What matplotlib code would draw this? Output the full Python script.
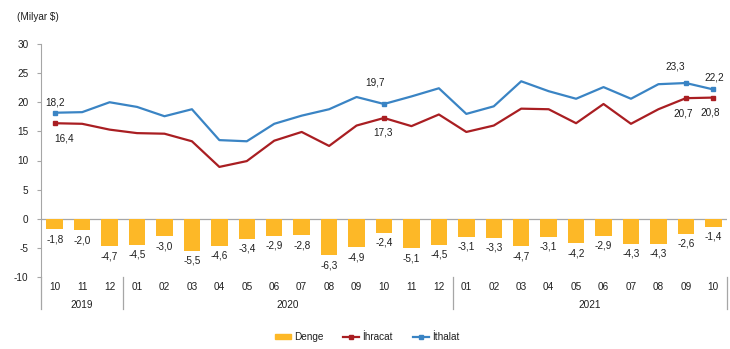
import matplotlib
matplotlib.use("Agg")
import matplotlib.pyplot as plt
from matplotlib.lines import Line2D
from matplotlib.patches import Patch
import numpy as np

plt.rcParams['font.family'] = ['Liberation Sans', 'DejaVu Sans']

months = ["10", "11", "12", "01", "02", "03", "04", "05", "06", "07", "08", "09", "10", "11", "12",
          "01", "02", "03", "04", "05", "06", "07", "08", "09", "10"]
years = ["2019", "2020", "2021"]
year_counts = [3, 12, 10]

ithalat = [18.2, 18.3, 20.0, 19.2, 17.6, 18.8, 13.5, 13.3, 16.3, 17.7, 18.8, 20.9, 19.7, 21.0, 22.4,
           18.0, 19.3, 23.6, 21.9, 20.6, 22.6, 20.6, 23.1, 23.3, 22.2]
ihracat = [16.4, 16.3, 15.3, 14.7, 14.6, 13.3, 8.9, 9.9, 13.4, 14.9, 12.5, 16.0, 17.3, 15.9, 17.9,
           14.9, 16.0, 18.9, 18.8, 16.4, 19.7, 16.3, 18.8, 20.7, 20.8]
denge = [-1.8, -2.0, -4.7, -4.5, -3.0, -5.5, -4.6, -3.4, -2.9, -2.8, -6.3, -4.9, -2.4, -5.1, -4.5,
         -3.1, -3.3, -4.7, -3.1, -4.2, -2.9, -4.3, -4.3, -2.6, -1.4]
labeled_idx = [0, 12, 23, 24]

c_bar = "#FDB827"
c_exp = "#A91E22"
c_imp = "#3A84C4"
c_txt = "#1F1F1F"
c_axis = "#A6A6A6"

fig = plt.figure(figsize=(7.30, 3.49), dpi=100)
ax = fig.add_axes([41/730, 72/349, 686/730, 233/349])

x = np.arange(len(months))
ax.bar(x, denge, width=0.6, color=c_bar, zorder=2)
ax.plot(x, ihracat, color=c_exp, lw=1.6, zorder=3)
ax.plot(x, ithalat, color=c_imp, lw=1.6, zorder=3)
ax.plot(x[labeled_idx], np.array(ihracat)[labeled_idx], 's', color=c_exp, ms=3.5, zorder=4)
ax.plot(x[labeled_idx], np.array(ithalat)[labeled_idx], 's', color=c_imp, ms=3.5, zorder=4)

fs = 7.2
fmt = lambda v: f"{v:.1f}".replace(".", ",")
for i, v in enumerate(denge):
    ax.annotate(fmt(v), (x[i], v), xytext=(0, -10), textcoords="offset pixels",
                ha="center", va="center", fontsize=fs, color=c_txt)
# label offsets in pixels (dx, dy) for each labeled point
imp_off = [(0, 10), (-9, 21), (-11, 17), (1, 12)]
exp_off = [(9, -15), (-1, -15), (-3, -15), (-3, -15)]
for k, i in enumerate(labeled_idx):
    ax.annotate(fmt(ithalat[i]), (x[i], ithalat[i]), xytext=imp_off[k], textcoords="offset pixels",
                ha="center", va="center", fontsize=fs, color=c_txt)
    ax.annotate(fmt(ihracat[i]), (x[i], ihracat[i]), xytext=exp_off[k], textcoords="offset pixels",
                ha="center", va="center", fontsize=fs, color=c_txt)

ax.set_xlim(-0.5, len(months) - 0.5)
ax.set_ylim(-10, 30)
ax.set_yticks(np.arange(-10, 31, 5))
ax.set_yticklabels([str(v) for v in range(-10, 31, 5)], fontsize=fs, color=c_txt)
ax.tick_params(axis="y", length=3, color=c_axis, pad=6)
ax.set_xticks([])
for s in ["top", "right", "bottom"]:
    ax.spines[s].set_visible(False)
ax.spines["left"].set_color(c_axis)
ax.axhline(0, color=c_axis, lw=0.9, zorder=1)

# category labels
h_ax = 233
trans = ax.get_xaxis_transform()
for i, m in enumerate(months):
    ax.text(x[i], -10 / h_ax, m, transform=trans, ha="center", va="center", fontsize=fs, color=c_txt)
bounds = np.concatenate([[0], np.cumsum(year_counts)])
for j, yname in enumerate(years):
    mid = (bounds[j] + bounds[j + 1] - 1) / 2
    ax.text(mid, -28.5 / h_ax, yname, transform=trans, ha="center", va="center", fontsize=fs, color=c_txt)
for b in bounds:
    ax.plot([b - 0.5, b - 0.5], [0, -32 / h_ax], transform=trans, color=c_axis, lw=0.9, clip_on=False)

fig.text(17/730, 1 - 17/349, "(Milyar $)", fontsize=fs, color=c_txt, va="center", ha="left")

handles = [Patch(color=c_bar, label="Denge"),
           Line2D([0], [0], color=c_exp, lw=1.6, marker="s", ms=3, label="İhracat"),
           Line2D([0], [0], color=c_imp, lw=1.6, marker="s", ms=3, label="İthalat")]
fig.legend(handles=handles, loc="center", bbox_to_anchor=(367/730, 1 - 337/349), ncol=3,
           frameon=False, fontsize=fs, handlelength=1.6, handleheight=0.5, columnspacing=2.0,
           handletextpad=0.3, labelcolor=c_txt)

fig.savefig("out.png", dpi=100)
